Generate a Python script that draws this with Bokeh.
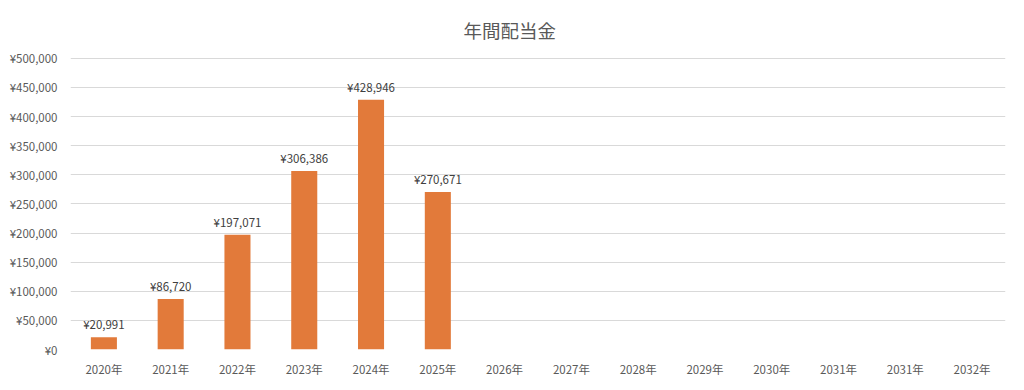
from bokeh.plotting import figure
from bokeh.models import ColumnDataSource, FixedTicker, Range1d
from bokeh.embed import file_html
from bokeh.resources import INLINE
from bokeh.core.properties import value

# ---- data ----
categories = ["2020年", "2021年", "2022年", "2023年", "2024年", "2025年", "2026年",
              "2027年", "2028年", "2029年", "2030年", "2031年", "2031年", "2032年"]
dividends = [20991, 86720, 197071, 306386, 428946, 270671, None,
             None, None, None, None, None, None, None]
y_ticks = [0, 50000, 100000, 150000, 200000, 250000, 300000, 350000, 400000, 450000, 500000]
title_text = "年間配当金"

FONT = "Noto Sans CJK JP"
BAR = "#E27A3A"

idx = list(range(len(categories)))
xs = [i for i, v in zip(idx, dividends) if v is not None]
vals = [v for v in dividends if v is not None]
labels = ["¥{:,}".format(v) for v in vals]
src = ColumnDataSource(dict(x=xs, top=vals, label=labels))

p = figure(frame_width=935, frame_height=292, output_backend="svg", toolbar_location=None,
           x_range=Range1d(-0.5, len(categories) - 0.5), y_range=Range1d(0, 501500),
           min_border_left=70, min_border_right=3, min_border_top=57, min_border_bottom=30)

p.vbar(x="x", top="top", bottom=0, width=0.39, source=src, color=BAR, line_color=None)
p.text(x="x", y="top", text="label", source=src, text_align="center", text_baseline="bottom",
       y_offset=-5, text_font=value(FONT), text_font_size="11.5px", text_color="#404040")

p.title.text = title_text
p.title.align = "left"
p.title.vertical_align = "top"
p.title.text_font = FONT
p.title.text_font_size = "18.5px"
p.title.text_font_style = "normal"
p.title.text_color = "#595959"
p.title.offset = 393
p.title.standoff = 26

p.outline_line_color = None
p.background_fill_color = "white"
p.border_fill_color = "white"

p.xgrid.grid_line_color = None
p.ygrid.grid_line_color = "#D9D9D9"
p.ygrid.grid_line_width = 1
p.ygrid.ticker = FixedTicker(ticks=y_ticks)

p.yaxis.ticker = FixedTicker(ticks=y_ticks)
p.yaxis.major_label_overrides = {t: "¥{:,}".format(t) for t in y_ticks}
p.xaxis.ticker = FixedTicker(ticks=idx)
p.xaxis.major_label_overrides = {i: c for i, c in zip(idx, categories)}

for ax in (p.xaxis, p.yaxis):
    ax.axis_line_color = None
    ax.major_tick_line_color = None
    ax.minor_tick_line_color = None
    ax.major_tick_out = 0
    ax.major_label_text_font = FONT
    ax.major_label_text_font_size = "11.5px"
    ax.major_label_text_color = "#595959"
p.xaxis.major_label_standoff = 11
p.yaxis.major_label_standoff = 13

open("out.html", "w").write(file_html(p, INLINE))
